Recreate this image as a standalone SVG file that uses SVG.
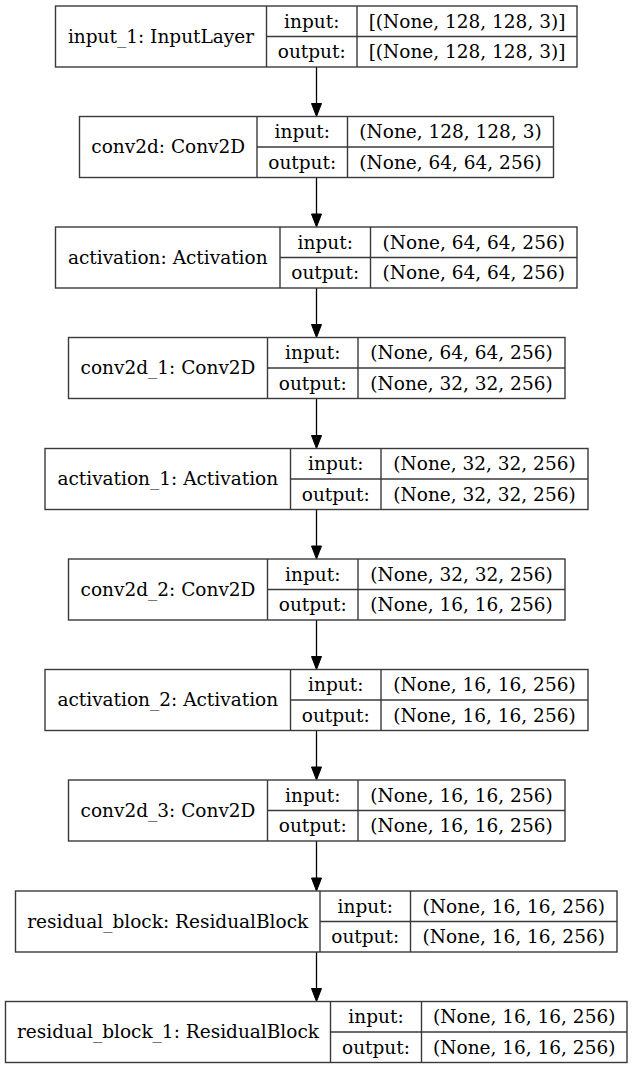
<svg xmlns="http://www.w3.org/2000/svg" width="633" height="1069" viewBox="0 0 633 1069">
<style>
.box{fill:#fff;stroke:#3a3a3a;stroke-width:1.4}
.div{stroke:#3a3a3a;stroke-width:1.4}
text{font-family:"DejaVu Serif","Liberation Serif",serif;font-size:18.5px;fill:#000;text-anchor:middle}
.edge{stroke:#000;stroke-width:1.3;fill:none}
.head{fill:#000;stroke:#000;stroke-width:1}
</style>
<rect width="633" height="1069" fill="#fff"/>
<g id="connectors">
<line class="edge" x1="316.5" y1="67" x2="316.5" y2="103.5"/><polygon class="head" points="311.5,103.5 321.5,103.5 316.5,116.5"/>
<line class="edge" x1="316.5" y1="177.5" x2="316.5" y2="214"/><polygon class="head" points="311.5,214 321.5,214 316.5,227"/>
<line class="edge" x1="316.5" y1="288" x2="316.5" y2="324.5"/><polygon class="head" points="311.5,324.5 321.5,324.5 316.5,337.5"/>
<line class="edge" x1="316.5" y1="398.5" x2="316.5" y2="435.5"/><polygon class="head" points="311.5,435.5 321.5,435.5 316.5,448.5"/>
<line class="edge" x1="316.5" y1="509.5" x2="316.5" y2="546"/><polygon class="head" points="311.5,546 321.5,546 316.5,559"/>
<line class="edge" x1="316.5" y1="620" x2="316.5" y2="656.5"/><polygon class="head" points="311.5,656.5 321.5,656.5 316.5,669.5"/>
<line class="edge" x1="316.5" y1="730.5" x2="316.5" y2="767"/><polygon class="head" points="311.5,767 321.5,767 316.5,780"/>
<line class="edge" x1="316.5" y1="841" x2="316.5" y2="878"/><polygon class="head" points="311.5,878 321.5,878 316.5,891"/>
<line class="edge" x1="316.5" y1="952" x2="316.5" y2="988.5"/><polygon class="head" points="311.5,988.5 321.5,988.5 316.5,1001.5"/>
</g>
<g id="input_1">
<rect class="box" x="55.5" y="6" width="521.5" height="61"/>
<line class="div" x1="266.5" y1="6" x2="266.5" y2="67"/><line class="div" x1="357" y1="6" x2="357" y2="67"/><line class="div" x1="266.5" y1="36.5" x2="577" y2="36.5"/>
<text x="161" y="42.5">input_1: InputLayer</text>
<text x="311.75" y="27.5">input:</text><text x="311.75" y="58">output:</text>
<text x="467" y="27.5">[(None, 128, 128, 3)]</text><text x="467" y="58">[(None, 128, 128, 3)]</text>
</g>
<g id="conv2d">
<rect class="box" x="79.5" y="116.5" width="474" height="61"/>
<line class="div" x1="257" y1="116.5" x2="257" y2="177.5"/><line class="div" x1="347.5" y1="116.5" x2="347.5" y2="177.5"/><line class="div" x1="257" y1="147" x2="553.5" y2="147"/>
<text x="168.25" y="153">conv2d: Conv2D</text>
<text x="302.25" y="138">input:</text><text x="302.25" y="168.5">output:</text>
<text x="450.5" y="138">(None, 128, 128, 3)</text><text x="450.5" y="168.5">(None, 64, 64, 256)</text>
</g>
<g id="activation">
<rect class="box" x="55.5" y="227" width="521.5" height="61"/>
<line class="div" x1="280" y1="227" x2="280" y2="288"/><line class="div" x1="370.5" y1="227" x2="370.5" y2="288"/><line class="div" x1="280" y1="257.5" x2="577" y2="257.5"/>
<text x="167.75" y="263.5">activation: Activation</text>
<text x="325.25" y="248.5">input:</text><text x="325.25" y="279">output:</text>
<text x="473.75" y="248.5">(None, 64, 64, 256)</text><text x="473.75" y="279">(None, 64, 64, 256)</text>
</g>
<g id="conv2d_1">
<rect class="box" x="68.5" y="337.5" width="496.5" height="61"/>
<line class="div" x1="267.5" y1="337.5" x2="267.5" y2="398.5"/><line class="div" x1="358" y1="337.5" x2="358" y2="398.5"/><line class="div" x1="267.5" y1="368" x2="565" y2="368"/>
<text x="168" y="374">conv2d_1: Conv2D</text>
<text x="312.75" y="359">input:</text><text x="312.75" y="389.5">output:</text>
<text x="461.5" y="359">(None, 64, 64, 256)</text><text x="461.5" y="389.5">(None, 32, 32, 256)</text>
</g>
<g id="activation_1">
<rect class="box" x="45" y="448.5" width="543" height="61"/>
<line class="div" x1="290.5" y1="448.5" x2="290.5" y2="509.5"/><line class="div" x1="381" y1="448.5" x2="381" y2="509.5"/><line class="div" x1="290.5" y1="479" x2="588" y2="479"/>
<text x="167.75" y="485">activation_1: Activation</text>
<text x="335.75" y="470">input:</text><text x="335.75" y="500.5">output:</text>
<text x="484.5" y="470">(None, 32, 32, 256)</text><text x="484.5" y="500.5">(None, 32, 32, 256)</text>
</g>
<g id="conv2d_2">
<rect class="box" x="68.5" y="559" width="496.5" height="61"/>
<line class="div" x1="267.5" y1="559" x2="267.5" y2="620"/><line class="div" x1="358" y1="559" x2="358" y2="620"/><line class="div" x1="267.5" y1="589.5" x2="565" y2="589.5"/>
<text x="168" y="595.5">conv2d_2: Conv2D</text>
<text x="312.75" y="580.5">input:</text><text x="312.75" y="611">output:</text>
<text x="461.5" y="580.5">(None, 32, 32, 256)</text><text x="461.5" y="611">(None, 16, 16, 256)</text>
</g>
<g id="activation_2">
<rect class="box" x="45" y="669.5" width="543" height="61"/>
<line class="div" x1="290.5" y1="669.5" x2="290.5" y2="730.5"/><line class="div" x1="381" y1="669.5" x2="381" y2="730.5"/><line class="div" x1="290.5" y1="700" x2="588" y2="700"/>
<text x="167.75" y="706">activation_2: Activation</text>
<text x="335.75" y="691">input:</text><text x="335.75" y="721.5">output:</text>
<text x="484.5" y="691">(None, 16, 16, 256)</text><text x="484.5" y="721.5">(None, 16, 16, 256)</text>
</g>
<g id="conv2d_3">
<rect class="box" x="68.5" y="780" width="496.5" height="61"/>
<line class="div" x1="267.5" y1="780" x2="267.5" y2="841"/><line class="div" x1="358" y1="780" x2="358" y2="841"/><line class="div" x1="267.5" y1="810.5" x2="565" y2="810.5"/>
<text x="168" y="816.5">conv2d_3: Conv2D</text>
<text x="312.75" y="801.5">input:</text><text x="312.75" y="832">output:</text>
<text x="461.5" y="801.5">(None, 16, 16, 256)</text><text x="461.5" y="832">(None, 16, 16, 256)</text>
</g>
<g id="residual_block">
<rect class="box" x="15.5" y="891" width="601.5" height="61"/>
<line class="div" x1="320" y1="891" x2="320" y2="952"/><line class="div" x1="410.5" y1="891" x2="410.5" y2="952"/><line class="div" x1="320" y1="921.5" x2="617" y2="921.5"/>
<text x="167.75" y="927.5">residual_block: ResidualBlock</text>
<text x="365.25" y="912.5">input:</text><text x="365.25" y="943">output:</text>
<text x="513.75" y="912.5">(None, 16, 16, 256)</text><text x="513.75" y="943">(None, 16, 16, 256)</text>
</g>
<g id="residual_block_1">
<rect class="box" x="5.5" y="1001.5" width="621.5" height="61"/>
<line class="div" x1="330.5" y1="1001.5" x2="330.5" y2="1062.5"/><line class="div" x1="421.5" y1="1001.5" x2="421.5" y2="1062.5"/><line class="div" x1="330.5" y1="1032" x2="627" y2="1032"/>
<text x="168" y="1038">residual_block_1: ResidualBlock</text>
<text x="376" y="1023">input:</text><text x="376" y="1053.5">output:</text>
<text x="524.25" y="1023">(None, 16, 16, 256)</text><text x="524.25" y="1053.5">(None, 16, 16, 256)</text>
</g>
</svg>
